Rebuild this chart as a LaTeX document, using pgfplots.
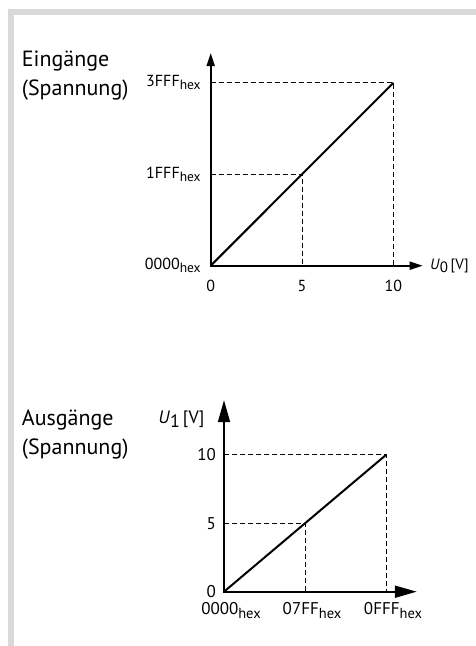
\documentclass[border=0pt]{standalone}
\usepackage{fontspec}
\setmainfont{PT Sans}
\usepackage{pgfplots}
\pgfplotsset{compat=1.18}
\usetikzlibrary{arrows.meta}
\newcommand{\hexA}{\raisebox{-3pt}{\fontsize{13.5}{13.5}\selectfont hex}}
\newcommand{\hexB}{\raisebox{-4pt}{\fontsize{14.5}{14.5}\selectfont hex}}
\definecolor{barcol}{HTML}{D9D9D9}
\begin{document}
\begin{tikzpicture}
\useasboundingbox (0,0) rectangle (476pt,646pt);
\fill[barcol] (8pt,631pt) rectangle (476pt,637pt);
\fill[barcol] (8pt,0pt) rectangle (14pt,637pt);
\node[anchor=base west, inner sep=0pt, font=\fontsize{22}{22}\selectfont] at (21.7pt,579.3pt) {Eingänge};
\node[anchor=base west, inner sep=0pt, font=\fontsize{22}{22}\selectfont] at (21.7pt,550.3pt) {(Spannung)};
\node[anchor=base west, inner sep=0pt, font=\fontsize{22}{22}\selectfont] at (21.7pt,220pt) {Ausgänge};
\node[anchor=base west, inner sep=0pt, font=\fontsize{22}{22}\selectfont] at (21.7pt,191pt) {(Spannung)};

% top chart
\begin{axis}[
  at={(210.7pt,380.3pt)}, anchor=south west,
  scale only axis, width=212pt, height=212.6pt,
  axis lines=left,
  axis line style={draw=none},
  xmin=0, xmax=11.6, ymin=0, ymax=11.62,
  enlargelimits=false, clip=false,
  xtick={0,5,10}, ytick={0,5,10},
  xticklabels={0,5,10},
  yticklabels={0000\hexA,1FFF\hexA,3FFF\hexA},
  major tick length=0pt, tick style={draw=none},
  ticklabel style={font=\fontsize{16}{16}\selectfont},
  xticklabel style={yshift=-11pt},
  yticklabel style={xshift=-6.5pt},
  every axis x label/.style={at={(axis cs:11.6,0)}, anchor=west, xshift=4pt, font=\fontsize{15}{15}\selectfont},
  xlabel={\textit{U}\raisebox{-3pt}{0}\,[V]},
]
\addplot[black, line width=0.9pt, dash pattern=on 5pt off 3pt] coordinates {(0,10) (10,10) (10,0)};
\addplot[black, line width=0.9pt, dash pattern=on 5pt off 3pt] coordinates {(0,5) (5,5) (5,0)};
\addplot[black, line width=2pt] coordinates {(0,0) (10,10)};
\draw[line width=1.8pt, {Triangle[length=13pt,width=8pt]}-{Triangle[length=13pt,width=8pt]}] (axis cs:0,11.62) -- (axis cs:0,0) -- (axis cs:11.6,0);
\end{axis}

% bottom chart
\begin{axis}[
  at={(224pt,54.3pt)}, anchor=south west,
  scale only axis, width=192.8pt, height=191.5pt,
  axis lines=left,
  axis line style={draw=none},
  xmin=0, xmax=11.9, ymin=0, ymax=14.0,
  enlargelimits=false, clip=false,
  xtick={0,5,10}, ytick={0,5,10},
  xticklabels={0000\hexB,07FF\hexB,0FFF\hexB},
  yticklabels={0,5,10},
  major tick length=0pt, tick style={draw=none},
  ticklabel style={font=\fontsize{17}{17}\selectfont},
  xticklabel style={yshift=-7.5pt, xshift=7pt},
  yticklabel style={xshift=-4.5pt},
  every axis y label/.style={at={(axis cs:0,12.6)}, anchor=east, xshift=-16pt, font=\fontsize{18}{18}\selectfont},
  ylabel={\textit{U}\raisebox{-4pt}{1}\,[V]},
]
\addplot[black, line width=0.9pt, dash pattern=on 5pt off 3pt] coordinates {(0,10) (10,10) (10,0)};
\addplot[black, line width=0.9pt, dash pattern=on 5pt off 3pt] coordinates {(0,5) (5,5) (5,0)};
\addplot[black, line width=2pt] coordinates {(0,0) (10,10)};
\draw[line width=1.8pt, {Triangle[length=22pt,width=12pt]}-{Triangle[length=22pt,width=12pt]}] (axis cs:0,14.0) -- (axis cs:0,0) -- (axis cs:11.9,0);
\end{axis}
\end{tikzpicture}
\end{document}
